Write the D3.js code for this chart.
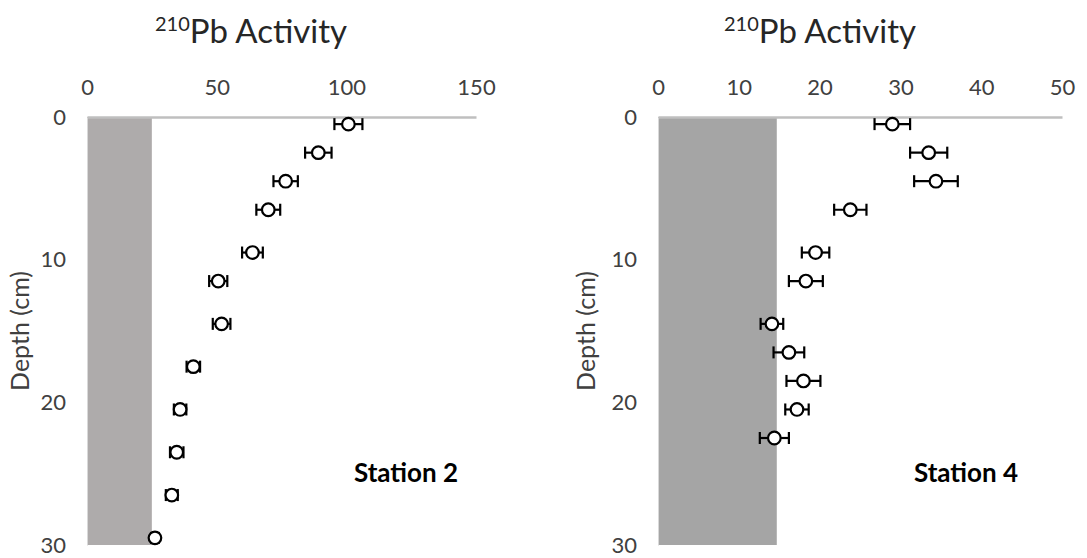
<!DOCTYPE html>
<html>
<head>
<meta charset="utf-8">
<script src="https://cdn.jsdelivr.net/npm/d3@7"></script>
<style>
  html, body { margin: 0; padding: 0; background: #fff; }
  svg { display: block; font-family: Lato, "Open Sans", sans-serif; }
</style>
</head>
<body>
<svg id="chart" width="1087" height="558"></svg>
<script>
// ---- Data ----
const depthSt2 = [0.5, 2.5, 4.5, 6.5, 9.5, 11.5, 14.5, 17.5, 20.5, 23.5, 26.5, 29.5];
const activitySt2 = [100.8, 89.2, 76.6, 69.9, 63.8, 50.6, 51.9, 41.0, 35.9, 34.6, 32.7, 26.2];
const errorSt2 = [5.4, 5.1, 4.7, 4.6, 4.0, 3.5, 3.4, 2.6, 2.4, 2.6, 2.3, 1.5];
const supportedSt2 = 25;

const depthSt4 = [0.5, 2.5, 4.5, 6.5, 9.5, 11.5, 14.5, 16.5, 18.5, 20.5, 22.5];
const activitySt4 = [29.0, 33.5, 34.4, 23.8, 19.5, 18.3, 14.1, 16.2, 18.0, 17.2, 14.4];
const errorSt4 = [2.2, 2.3, 2.7, 2.0, 1.7, 2.1, 1.4, 1.9, 2.1, 1.45, 1.8];
const supportedSt4 = 14.7;

const xTicksSt2 = [0, 50, 100, 150];
const xTicksSt4 = [0, 10, 20, 30, 40, 50];
const depthTicks = [0, 10, 20, 30];
const depthDomain = [0, 30];

const stationLabels = ["Station 2", "Station 4"];
const titleSup = "210";
const titleMain = "Pb Activity";
const yTitle = "Depth (cm)";

// ---- Drawing ----
const svg = d3.select("#chart");

const panels = [
  { depth: depthSt2, act: activitySt2, err: errorSt2, supported: supportedSt2,
    xTicks: xTicksSt2, label: stationLabels[0],
    x0: 87, x1: 476, titleX: 251, yTitleX: 29, labelX: 406, barColor: "#AEABAB" },
  { depth: depthSt4, act: activitySt4, err: errorSt4, supported: supportedSt4,
    xTicks: xTicksSt4, label: stationLabels[1],
    x0: 658, x1: 1062, titleX: 820, yTitleX: 595, labelX: 966, barColor: "#A5A5A5" }
];

const yTop = 117, yBot = 545;

panels.forEach(p => {
  const g = svg.append("g");
  const x = d3.scaleLinear()
    .domain([p.xTicks[0], p.xTicks[p.xTicks.length - 1]])
    .range([p.x0, p.x1]);
  const y = d3.scaleLinear().domain(depthDomain).range([yTop, yBot]);

  // supported activity band
  g.append("rect")
    .attr("x", x(0)).attr("y", y(0))
    .attr("width", x(p.supported) - x(0))
    .attr("height", y(depthDomain[1]) - y(0))
    .attr("fill", p.barColor);

  // top x axis
  const xAxis = d3.axisTop(x).tickValues(p.xTicks).tickSize(0).tickPadding(22)
    .tickFormat(d3.format("d"));
  const gx = g.append("g").attr("transform", `translate(0,${y(0)})`).call(xAxis);
  gx.select(".domain").attr("stroke", "#BFBFBF").attr("stroke-width", 2.5);
  gx.selectAll("text").attr("font-size", 22).attr("fill", "#404040")
    .attr("font-family", "Lato, sans-serif");

  // left y axis
  const yAxis = d3.axisLeft(y).tickValues(depthTicks).tickSize(0).tickPadding(21)
    .tickFormat(d3.format("d"));
  const gy = g.append("g").attr("transform", `translate(${x(0)},0)`).call(yAxis);
  gy.select(".domain").attr("stroke", "#D9D9D9").attr("stroke-width", 1);
  gy.selectAll("text").attr("font-size", 22).attr("fill", "#404040")
    .attr("font-family", "Lato, sans-serif");

  // title
  const t = g.append("text")
    .attr("x", p.titleX).attr("y", 43)
    .attr("text-anchor", "middle")
    .attr("fill", "#262626")
    .attr("font-size", 33);
  t.append("tspan").text(titleSup).attr("font-size", 20).attr("dy", -12);
  t.append("tspan").text(titleMain).attr("dy", 12);

  // y axis title
  g.append("text")
    .attr("transform", `translate(${p.yTitleX},${(yTop + yBot) / 2}) rotate(-90)`)
    .attr("text-anchor", "middle")
    .attr("fill", "#404040")
    .attr("font-size", 25)
    .text(yTitle);

  // station label
  g.append("text")
    .attr("x", p.labelX).attr("y", 482)
    .attr("text-anchor", "middle")
    .attr("font-weight", "bold")
    .attr("font-size", 26)
    .attr("fill", "#000")
    .text(p.label);

  // data points with horizontal error bars
  const pts = p.depth.map((d, i) => ({ d, v: p.act[i], e: p.err[i] }));
  const capH = 6;
  const eg = g.append("g").attr("stroke", "#000").attr("stroke-width", 2.2);
  eg.selectAll("line.err").data(pts).join("line").attr("class", "err")
    .attr("x1", d => x(d.v - d.e)).attr("x2", d => x(d.v + d.e))
    .attr("y1", d => y(d.d)).attr("y2", d => y(d.d));
  eg.selectAll("line.capL").data(pts).join("line").attr("class", "capL")
    .attr("x1", d => x(d.v - d.e)).attr("x2", d => x(d.v - d.e))
    .attr("y1", d => y(d.d) - capH).attr("y2", d => y(d.d) + capH);
  eg.selectAll("line.capR").data(pts).join("line").attr("class", "capR")
    .attr("x1", d => x(d.v + d.e)).attr("x2", d => x(d.v + d.e))
    .attr("y1", d => y(d.d) - capH).attr("y2", d => y(d.d) + capH);

  g.selectAll("circle.pt").data(pts).join("circle").attr("class", "pt")
    .attr("cx", d => x(d.v)).attr("cy", d => y(d.d))
    .attr("r", 6.3)
    .attr("fill", "#fff").attr("stroke", "#000").attr("stroke-width", 2.2);
});
</script>
</body>
</html>
